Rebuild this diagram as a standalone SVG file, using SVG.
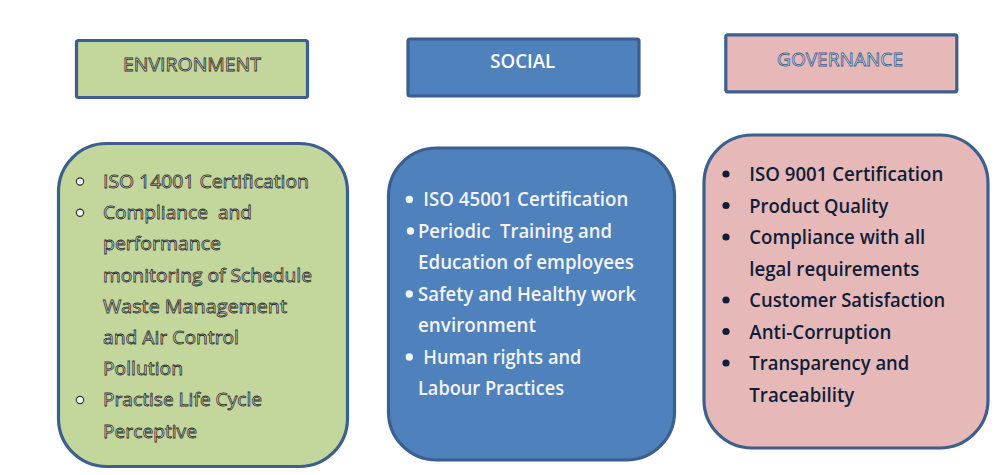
<svg xmlns="http://www.w3.org/2000/svg" width="1003" height="475" viewBox="0 0 1003 475">
<style>
.box{stroke:#3b5f8e;stroke-width:3.2}
.env{fill:#c3d69b}
.soc{fill:#4f81bd}
.gov{fill:#e6b9b8}
text{font-family:"Open Sans","Liberation Sans",sans-serif;font-size:19px}
.hdr{text-anchor:middle}
.envt{fill:#e6eed6;stroke:#2e2e2e;stroke-width:0.8}
.govh{fill:#eef2f8;stroke:#385d8a;stroke-width:0.8}
.soct{fill:#f4f4f4;font-weight:600}
.govt{fill:#0f1d38;font-weight:600}
.hb{fill:#ffffff;stroke:#333333;stroke-width:1.2}
</style>
<rect width="1003" height="475" fill="#ffffff"/>
<g id="environment-header">
<rect class="box env" x="76.5" y="40.5" width="231" height="57" rx="2"/>
<text class="hdr envt" x="192" y="70.5" textLength="138" lengthAdjust="spacingAndGlyphs">ENVIRONMENT</text>
</g>
<g id="social-header">
<rect class="box soc" x="408" y="39" width="231" height="57" rx="2"/>
<text class="hdr" x="522.7" y="67.7" fill="#ffffff" font-weight="600" textLength="65" lengthAdjust="spacingAndGlyphs">SOCIAL</text>
</g>
<g id="governance-header">
<rect class="box gov" x="725.8" y="34.8" width="231" height="57" rx="2"/>
<text class="hdr govh" x="840" y="65.7" textLength="126" lengthAdjust="spacingAndGlyphs">GOVERNANCE</text>
</g>
<g id="environment-body">
<rect class="box env" x="58.5" y="143.5" width="289" height="323" rx="48"/>
<circle class="hb" cx="80" cy="181.5" r="3.6"/>
<circle class="hb" cx="80" cy="212.7" r="3.6"/>
<circle class="hb" cx="80" cy="400" r="3.6"/>
<text class="envt" x="103" y="188" textLength="206" lengthAdjust="spacingAndGlyphs">ISO 14001 Certification</text>
<text class="envt" x="103" y="219.2" textLength="149" lengthAdjust="spacingAndGlyphs" xml:space="preserve">Compliance  and</text>
<text class="envt" x="103" y="250.4" textLength="118" lengthAdjust="spacingAndGlyphs">performance</text>
<text class="envt" x="103" y="281.6" textLength="209" lengthAdjust="spacingAndGlyphs">monitoring of Schedule</text>
<text class="envt" x="103" y="312.8" textLength="184" lengthAdjust="spacingAndGlyphs">Waste Management</text>
<text class="envt" x="103" y="344" textLength="136" lengthAdjust="spacingAndGlyphs">and Air Control</text>
<text class="envt" x="103" y="375.2" textLength="80" lengthAdjust="spacingAndGlyphs">Pollution</text>
<text class="envt" x="103" y="406.4" textLength="159" lengthAdjust="spacingAndGlyphs">Practise Life Cycle</text>
<text class="envt" x="103" y="437.6" textLength="94" lengthAdjust="spacingAndGlyphs">Perceptive</text>
</g>
<g id="social-body">
<rect class="box soc" x="388.5" y="148" width="286" height="312" rx="48"/>
<g fill="#f4f4f4">
<circle cx="409.3" cy="199.5" r="3.7"/>
<circle cx="410.5" cy="231" r="3.7"/>
<circle cx="409.3" cy="294" r="3.7"/>
<circle cx="409.3" cy="357" r="3.7"/>
</g>
<text class="soct" x="423.3" y="206" textLength="205" lengthAdjust="spacingAndGlyphs">ISO 45001 Certification</text>
<text class="soct" x="418" y="237.5" textLength="194" lengthAdjust="spacingAndGlyphs" xml:space="preserve">Periodic  Training and</text>
<text class="soct" x="418" y="269" textLength="216" lengthAdjust="spacingAndGlyphs">Education of employees</text>
<text class="soct" x="418" y="300.5" textLength="218" lengthAdjust="spacingAndGlyphs">Safety and Healthy work</text>
<text class="soct" x="418" y="332" textLength="118" lengthAdjust="spacingAndGlyphs">environment</text>
<text class="soct" x="423.3" y="363.5" textLength="158" lengthAdjust="spacingAndGlyphs">Human rights and</text>
<text class="soct" x="418" y="395" textLength="146" lengthAdjust="spacingAndGlyphs">Labour Practices</text>
</g>
<g id="governance-body">
<rect class="box gov" x="704" y="135" width="284" height="313" rx="48"/>
<g fill="#0f1d38">
<circle cx="726" cy="174" r="3.6"/>
<circle cx="726" cy="205.5" r="3.6"/>
<circle cx="726" cy="237" r="3.6"/>
<circle cx="726" cy="300" r="3.6"/>
<circle cx="726" cy="331.5" r="3.6"/>
<circle cx="726" cy="363" r="3.6"/>
</g>
<text class="govt" x="749.3" y="181" textLength="194" lengthAdjust="spacingAndGlyphs">ISO 9001 Certification</text>
<text class="govt" x="749.3" y="212.5" textLength="139" lengthAdjust="spacingAndGlyphs">Product Quality</text>
<text class="govt" x="749.3" y="244" textLength="176" lengthAdjust="spacingAndGlyphs">Compliance with all</text>
<text class="govt" x="749.3" y="275.5" textLength="170" lengthAdjust="spacingAndGlyphs">legal requirements</text>
<text class="govt" x="749.3" y="307" textLength="196" lengthAdjust="spacingAndGlyphs">Customer Satisfaction</text>
<text class="govt" x="749.3" y="338.5" textLength="142" lengthAdjust="spacingAndGlyphs">Anti-Corruption</text>
<text class="govt" x="749.3" y="370" textLength="160" lengthAdjust="spacingAndGlyphs">Transparency and</text>
<text class="govt" x="749.3" y="401.5" textLength="105" lengthAdjust="spacingAndGlyphs">Traceability</text>
</g>
</svg>
